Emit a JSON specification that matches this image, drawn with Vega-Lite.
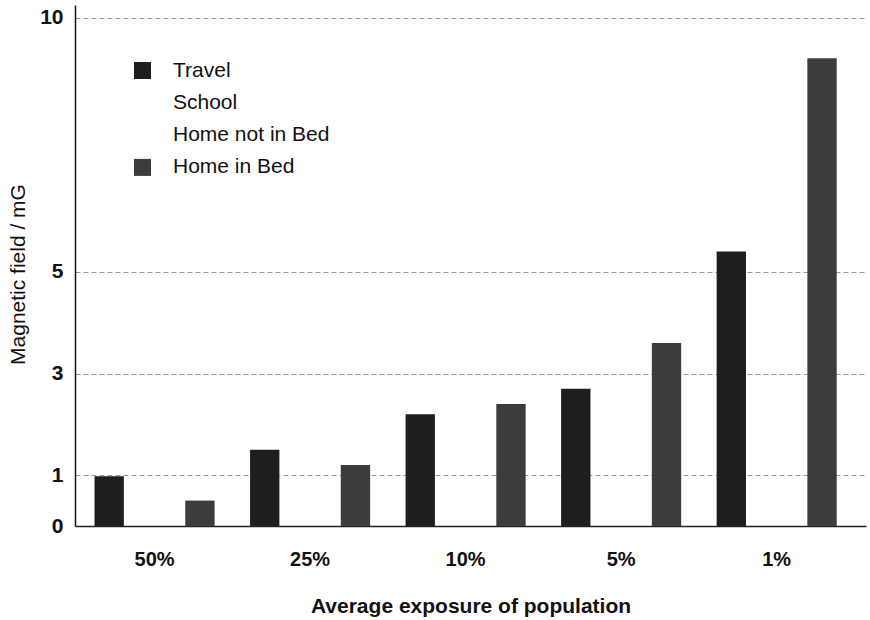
{
  "$schema": "https://vega.github.io/schema/vega-lite/v6.json",
  "width": 791,
  "height": 521,
  "autosize": "none",
  "padding": {"left": 75, "top": 5, "right": 4, "bottom": 94},
  "background": "white",
  "config": {"view": {"stroke": null}, "font": "Liberation Sans"},
  "data": {
    "values": [
      {"exposure": "50%", "location": "Travel", "field": 0.98},
      {"exposure": "50%", "location": "School", "field": 0},
      {"exposure": "50%", "location": "Home not in Bed", "field": 0},
      {"exposure": "50%", "location": "Home in Bed", "field": 0.5},
      {"exposure": "25%", "location": "Travel", "field": 1.5},
      {"exposure": "25%", "location": "School", "field": 0},
      {"exposure": "25%", "location": "Home not in Bed", "field": 0},
      {"exposure": "25%", "location": "Home in Bed", "field": 1.2},
      {"exposure": "10%", "location": "Travel", "field": 2.2},
      {"exposure": "10%", "location": "School", "field": 0},
      {"exposure": "10%", "location": "Home not in Bed", "field": 0},
      {"exposure": "10%", "location": "Home in Bed", "field": 2.4},
      {"exposure": "5%", "location": "Travel", "field": 2.7},
      {"exposure": "5%", "location": "School", "field": 0},
      {"exposure": "5%", "location": "Home not in Bed", "field": 0},
      {"exposure": "5%", "location": "Home in Bed", "field": 3.6},
      {"exposure": "1%", "location": "Travel", "field": 5.4},
      {"exposure": "1%", "location": "School", "field": 0},
      {"exposure": "1%", "location": "Home not in Bed", "field": 0},
      {"exposure": "1%", "location": "Home in Bed", "field": 9.2}
    ]
  },
  "mark": {"type": "bar"},
  "encoding": {
    "x": {
      "field": "exposure",
      "type": "nominal",
      "sort": ["50%", "25%", "10%", "5%", "1%"],
      "scale": {"paddingInner": 0.228, "paddingOuter": 0.157, "align": 0.4},
      "axis": {
        "title": "Average exposure of population",
        "labelAngle": 0,
        "ticks": false,
        "labelPadding": 23,
        "labelFontSize": 20,
        "labelFontWeight": "bold",
        "labelColor": "#111",
        "domainColor": "#222",
        "domainWidth": 1.5,
        "titleFontSize": 21,
        "titleFontWeight": "bold",
        "titleColor": "#111",
        "titlePadding": 26
      }
    },
    "xOffset": {
      "field": "location",
      "type": "nominal",
      "sort": ["Travel", "School", "Home not in Bed", "Home in Bed"],
      "scale": {"paddingInner": 0.03}
    },
    "y": {
      "field": "field",
      "type": "quantitative",
      "scale": {"domain": [0, 10.25], "nice": false, "zero": true},
      "axis": {
        "title": "Magnetic field / mG",
        "values": [0, 1, 3, 5, 10],
        "ticks": false,
        "labelPadding": 12,
        "labelFontSize": 21,
        "labelFontWeight": "bold",
        "labelColor": "#111",
        "domainColor": "#111",
        "domainWidth": 1.5,
        "grid": true,
        "gridColor": "#999",
        "gridDash": [5, 3],
        "gridWidth": 1,
        "titleFontSize": 21,
        "titleFontWeight": "normal",
        "titleColor": "#111",
        "titlePadding": 11,
        "titleY": 269
      }
    },
    "color": {
      "field": "location",
      "type": "nominal",
      "scale": {
        "domain": ["Travel", "School", "Home not in Bed", "Home in Bed"],
        "range": ["#1e1e1e", "#ffffff", "#ffffff", "#3c3c3c"]
      },
      "legend": {
        "title": null,
        "orient": "none",
        "legendX": 57,
        "legendY": 55,
        "symbolType": "square",
        "symbolSize": 289,
        "symbolStrokeWidth": 0,
        "labelFontSize": 21,
        "labelColor": "#111",
        "labelOffset": 20,
        "rowPadding": 10.3
      }
    }
  }
}
